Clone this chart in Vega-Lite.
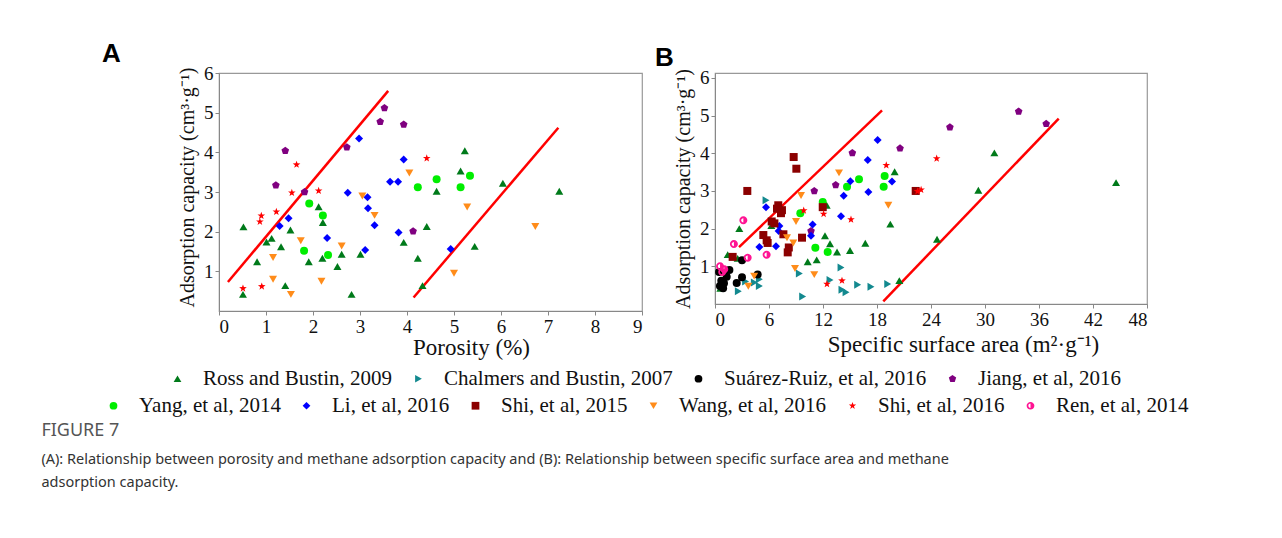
{
  "$schema": "https://vega.github.io/schema/vega-lite/v6.json",
  "padding": {"left": 41, "top": 40, "right": 5, "bottom": 5},
  "background": "white",
  "bounds": "flush",
  "spacing": 73,
  "config": {
    "font": "Liberation Serif",
    "view": {"stroke": "#999", "strokeWidth": 1.2},
    "axis": {"grid": false, "labelFont": "Liberation Serif", "titleFont": "Liberation Serif", "labelFontSize": 19, "titleFontSize": 20, "labelColor": "#111", "titleColor": "#111", "titleFontWeight": "normal", "domainColor": "#888", "tickColor": "#888", "tickSize": 4, "labelPadding": 2},
    "axisX": {"titleFontSize": 23},
    "legend": {"labelFont": "Liberation Serif", "labelFontSize": 21, "labelColor": "#111", "labelLimit": 600, "symbolSize": 60, "labelOffset": 15, "padding": 0},
    "title": {"font": "Liberation Sans", "fontSize": 26, "fontWeight": "bold", "color": "#000"}
  },
  "datasets": {
    "ptsA": [
      {"study": "Ross and Bustin, 2009", "x": 0.52, "y": 2.12},
      {"study": "Ross and Bustin, 2009", "x": 2.12, "y": 2.63},
      {"study": "Ross and Bustin, 2009", "x": 2.21, "y": 2.23},
      {"study": "Ross and Bustin, 2009", "x": 1.52, "y": 2.04},
      {"study": "Ross and Bustin, 2009", "x": 4.42, "y": 2.13},
      {"study": "Ross and Bustin, 2009", "x": 1.12, "y": 1.83},
      {"study": "Ross and Bustin, 2009", "x": 1.01, "y": 1.74},
      {"study": "Ross and Bustin, 2009", "x": 3.93, "y": 1.73},
      {"study": "Ross and Bustin, 2009", "x": 1.32, "y": 1.62},
      {"study": "Ross and Bustin, 2009", "x": 2.61, "y": 1.43},
      {"study": "Ross and Bustin, 2009", "x": 3.01, "y": 1.43},
      {"study": "Ross and Bustin, 2009", "x": 2.2, "y": 1.33},
      {"study": "Ross and Bustin, 2009", "x": 4.23, "y": 1.33},
      {"study": "Ross and Bustin, 2009", "x": 0.81, "y": 1.24},
      {"study": "Ross and Bustin, 2009", "x": 1.91, "y": 1.24},
      {"study": "Ross and Bustin, 2009", "x": 2.52, "y": 1.12},
      {"study": "Ross and Bustin, 2009", "x": 1.41, "y": 0.64},
      {"study": "Ross and Bustin, 2009", "x": 4.33, "y": 0.64},
      {"study": "Ross and Bustin, 2009", "x": 0.51, "y": 0.42},
      {"study": "Ross and Bustin, 2009", "x": 2.82, "y": 0.42},
      {"study": "Ross and Bustin, 2009", "x": 5.23, "y": 4.04},
      {"study": "Ross and Bustin, 2009", "x": 5.14, "y": 3.53},
      {"study": "Ross and Bustin, 2009", "x": 4.63, "y": 3.02},
      {"study": "Ross and Bustin, 2009", "x": 6.04, "y": 3.22},
      {"study": "Ross and Bustin, 2009", "x": 7.24, "y": 3.02},
      {"study": "Ross and Bustin, 2009", "x": 5.44, "y": 1.63},
      {"study": "Yang, et al, 2014", "x": 1.92, "y": 2.71},
      {"study": "Yang, et al, 2014", "x": 2.21, "y": 2.41},
      {"study": "Yang, et al, 2014", "x": 1.81, "y": 1.52},
      {"study": "Yang, et al, 2014", "x": 2.32, "y": 1.41},
      {"study": "Yang, et al, 2014", "x": 4.23, "y": 3.12},
      {"study": "Yang, et al, 2014", "x": 4.63, "y": 3.32},
      {"study": "Yang, et al, 2014", "x": 5.34, "y": 3.41},
      {"study": "Yang, et al, 2014", "x": 5.14, "y": 3.12},
      {"study": "Li, et al, 2016", "x": 2.98, "y": 4.35},
      {"study": "Li, et al, 2016", "x": 3.93, "y": 3.82},
      {"study": "Li, et al, 2016", "x": 3.64, "y": 3.26},
      {"study": "Li, et al, 2016", "x": 3.81, "y": 3.26},
      {"study": "Li, et al, 2016", "x": 2.74, "y": 2.98},
      {"study": "Li, et al, 2016", "x": 3.16, "y": 2.87},
      {"study": "Li, et al, 2016", "x": 3.17, "y": 2.59},
      {"study": "Li, et al, 2016", "x": 1.48, "y": 2.34},
      {"study": "Li, et al, 2016", "x": 1.29, "y": 2.14},
      {"study": "Li, et al, 2016", "x": 3.31, "y": 2.16},
      {"study": "Li, et al, 2016", "x": 3.82, "y": 1.98},
      {"study": "Li, et al, 2016", "x": 2.3, "y": 1.84},
      {"study": "Li, et al, 2016", "x": 3.11, "y": 1.54},
      {"study": "Li, et al, 2016", "x": 4.93, "y": 1.56},
      {"study": "Jiang, et al, 2016", "x": 3.52, "y": 5.12},
      {"study": "Jiang, et al, 2016", "x": 3.43, "y": 4.77},
      {"study": "Jiang, et al, 2016", "x": 3.93, "y": 4.7},
      {"study": "Jiang, et al, 2016", "x": 2.72, "y": 4.13},
      {"study": "Jiang, et al, 2016", "x": 1.41, "y": 4.04},
      {"study": "Jiang, et al, 2016", "x": 1.21, "y": 3.17},
      {"study": "Jiang, et al, 2016", "x": 1.82, "y": 3.0},
      {"study": "Jiang, et al, 2016", "x": 4.13, "y": 2.01},
      {"study": "Shi, et al, 2016", "x": 1.65, "y": 3.69},
      {"study": "Shi, et al, 2016", "x": 4.42, "y": 3.85},
      {"study": "Shi, et al, 2016", "x": 1.55, "y": 2.98},
      {"study": "Shi, et al, 2016", "x": 2.12, "y": 3.03},
      {"study": "Shi, et al, 2016", "x": 0.9, "y": 2.4},
      {"study": "Shi, et al, 2016", "x": 1.22, "y": 2.5},
      {"study": "Shi, et al, 2016", "x": 0.87, "y": 2.25},
      {"study": "Shi, et al, 2016", "x": 0.51, "y": 0.57},
      {"study": "Shi, et al, 2016", "x": 0.91, "y": 0.62},
      {"study": "Wang, et al, 2016", "x": 4.05, "y": 3.48},
      {"study": "Wang, et al, 2016", "x": 3.05, "y": 2.9},
      {"study": "Wang, et al, 2016", "x": 3.31, "y": 2.41},
      {"study": "Wang, et al, 2016", "x": 1.74, "y": 1.77},
      {"study": "Wang, et al, 2016", "x": 2.61, "y": 1.64},
      {"study": "Wang, et al, 2016", "x": 1.15, "y": 1.35},
      {"study": "Wang, et al, 2016", "x": 1.15, "y": 0.8},
      {"study": "Wang, et al, 2016", "x": 2.18, "y": 0.75},
      {"study": "Wang, et al, 2016", "x": 1.53, "y": 0.42},
      {"study": "Wang, et al, 2016", "x": 5.28, "y": 2.62},
      {"study": "Wang, et al, 2016", "x": 6.73, "y": 2.13},
      {"study": "Wang, et al, 2016", "x": 5.0, "y": 0.95}
    ],
    "linesA": [
      {"seg": "upper", "x": 0.19, "y": 0.73},
      {"seg": "upper", "x": 3.6, "y": 5.55},
      {"seg": "lower", "x": 4.14, "y": 0.34},
      {"seg": "lower", "x": 7.22, "y": 4.62}
    ],
    "ptsB": [
      {"study": "Ross and Bustin, 2009", "x": 12.41, "y": 2.62},
      {"study": "Ross and Bustin, 2009", "x": 2.7, "y": 2.0},
      {"study": "Ross and Bustin, 2009", "x": 6.26, "y": 2.08},
      {"study": "Ross and Bustin, 2009", "x": 12.22, "y": 1.81},
      {"study": "Ross and Bustin, 2009", "x": 12.78, "y": 1.6},
      {"study": "Ross and Bustin, 2009", "x": 13.56, "y": 1.38},
      {"study": "Ross and Bustin, 2009", "x": 15.0, "y": 1.42},
      {"study": "Ross and Bustin, 2009", "x": 1.41, "y": 1.31},
      {"study": "Ross and Bustin, 2009", "x": 2.52, "y": 1.21},
      {"study": "Ross and Bustin, 2009", "x": 11.3, "y": 1.17},
      {"study": "Ross and Bustin, 2009", "x": 10.3, "y": 1.12},
      {"study": "Ross and Bustin, 2009", "x": 0.59, "y": 0.42},
      {"study": "Ross and Bustin, 2009", "x": 31.04, "y": 4.01},
      {"study": "Ross and Bustin, 2009", "x": 19.96, "y": 3.51},
      {"study": "Ross and Bustin, 2009", "x": 29.26, "y": 3.02},
      {"study": "Ross and Bustin, 2009", "x": 44.56, "y": 3.22},
      {"study": "Ross and Bustin, 2009", "x": 19.48, "y": 2.12},
      {"study": "Ross and Bustin, 2009", "x": 16.7, "y": 1.61},
      {"study": "Ross and Bustin, 2009", "x": 24.67, "y": 1.72},
      {"study": "Ross and Bustin, 2009", "x": 20.48, "y": 0.62},
      {"study": "Chalmers and Bustin, 2007", "x": 5.67, "y": 2.75},
      {"study": "Chalmers and Bustin, 2007", "x": 2.59, "y": 0.34},
      {"study": "Chalmers and Bustin, 2007", "x": 4.93, "y": 0.66},
      {"study": "Chalmers and Bustin, 2007", "x": 4.93, "y": 0.48},
      {"study": "Chalmers and Bustin, 2007", "x": 4.37, "y": 0.57},
      {"study": "Chalmers and Bustin, 2007", "x": 3.4, "y": 0.6},
      {"study": "Chalmers and Bustin, 2007", "x": 9.37, "y": 0.81},
      {"study": "Chalmers and Bustin, 2007", "x": 9.74, "y": 0.2},
      {"study": "Chalmers and Bustin, 2007", "x": 12.78, "y": 0.64},
      {"study": "Chalmers and Bustin, 2007", "x": 14.0, "y": 0.97},
      {"study": "Chalmers and Bustin, 2007", "x": 14.11, "y": 0.38},
      {"study": "Chalmers and Bustin, 2007", "x": 14.56, "y": 0.31},
      {"study": "Chalmers and Bustin, 2007", "x": 15.85, "y": 0.51},
      {"study": "Chalmers and Bustin, 2007", "x": 17.33, "y": 0.46},
      {"study": "Chalmers and Bustin, 2007", "x": 19.19, "y": 0.53},
      {"study": "Suárez-Ruiz, et al, 2016", "x": 3.0, "y": 1.16},
      {"study": "Suárez-Ruiz, et al, 2016", "x": 3.0, "y": 0.71},
      {"study": "Suárez-Ruiz, et al, 2016", "x": 2.41, "y": 0.56},
      {"study": "Suárez-Ruiz, et al, 2016", "x": 4.74, "y": 0.78},
      {"study": "Suárez-Ruiz, et al, 2016", "x": 0.45, "y": 0.85},
      {"study": "Suárez-Ruiz, et al, 2016", "x": 0.7, "y": 0.62},
      {"study": "Suárez-Ruiz, et al, 2016", "x": 1.0, "y": 0.55},
      {"study": "Suárez-Ruiz, et al, 2016", "x": 0.55, "y": 0.48},
      {"study": "Suárez-Ruiz, et al, 2016", "x": 1.3, "y": 0.72},
      {"study": "Suárez-Ruiz, et al, 2016", "x": 0.9, "y": 0.42},
      {"study": "Suárez-Ruiz, et al, 2016", "x": 1.6, "y": 0.9},
      {"study": "Jiang, et al, 2016", "x": 15.26, "y": 4.01},
      {"study": "Jiang, et al, 2016", "x": 13.41, "y": 3.16},
      {"study": "Jiang, et al, 2016", "x": 11.03, "y": 3.0},
      {"study": "Jiang, et al, 2016", "x": 10.67, "y": 1.94},
      {"study": "Jiang, et al, 2016", "x": 33.74, "y": 5.11},
      {"study": "Jiang, et al, 2016", "x": 36.8, "y": 4.78},
      {"study": "Jiang, et al, 2016", "x": 26.1, "y": 4.69},
      {"study": "Jiang, et al, 2016", "x": 20.56, "y": 4.13},
      {"study": "Yang, et al, 2014", "x": 14.67, "y": 3.11},
      {"study": "Yang, et al, 2014", "x": 11.97, "y": 2.71},
      {"study": "Yang, et al, 2014", "x": 9.48, "y": 2.41},
      {"study": "Yang, et al, 2014", "x": 11.15, "y": 1.49},
      {"study": "Yang, et al, 2014", "x": 12.52, "y": 1.38},
      {"study": "Yang, et al, 2014", "x": 16.0, "y": 3.31},
      {"study": "Yang, et al, 2014", "x": 18.85, "y": 3.4},
      {"study": "Yang, et al, 2014", "x": 18.74, "y": 3.11},
      {"study": "Li, et al, 2016", "x": 15.04, "y": 3.26},
      {"study": "Li, et al, 2016", "x": 14.3, "y": 2.87},
      {"study": "Li, et al, 2016", "x": 5.67, "y": 2.57},
      {"study": "Li, et al, 2016", "x": 14.0, "y": 2.33},
      {"study": "Li, et al, 2016", "x": 7.15, "y": 2.07},
      {"study": "Li, et al, 2016", "x": 10.85, "y": 2.11},
      {"study": "Li, et al, 2016", "x": 7.07, "y": 1.94},
      {"study": "Li, et al, 2016", "x": 10.67, "y": 1.81},
      {"study": "Li, et al, 2016", "x": 4.93, "y": 1.51},
      {"study": "Li, et al, 2016", "x": 6.78, "y": 1.53},
      {"study": "Li, et al, 2016", "x": 18.07, "y": 4.35},
      {"study": "Li, et al, 2016", "x": 16.97, "y": 3.82},
      {"study": "Li, et al, 2016", "x": 19.67, "y": 3.25},
      {"study": "Li, et al, 2016", "x": 17.04, "y": 2.97},
      {"study": "Shi, et al, 2015", "x": 8.74, "y": 3.9},
      {"study": "Shi, et al, 2015", "x": 9.04, "y": 3.59},
      {"study": "Shi, et al, 2015", "x": 3.59, "y": 3.0},
      {"study": "Shi, et al, 2015", "x": 7.03, "y": 2.62},
      {"study": "Shi, et al, 2015", "x": 7.44, "y": 2.49},
      {"study": "Shi, et al, 2015", "x": 6.89, "y": 2.53},
      {"study": "Shi, et al, 2015", "x": 7.33, "y": 2.41},
      {"study": "Shi, et al, 2015", "x": 11.97, "y": 2.57},
      {"study": "Shi, et al, 2015", "x": 6.3, "y": 2.19},
      {"study": "Shi, et al, 2015", "x": 6.6, "y": 2.14},
      {"study": "Shi, et al, 2015", "x": 7.6, "y": 1.85},
      {"study": "Shi, et al, 2015", "x": 9.67, "y": 1.76},
      {"study": "Shi, et al, 2015", "x": 5.37, "y": 1.83},
      {"study": "Shi, et al, 2015", "x": 5.74, "y": 1.69},
      {"study": "Shi, et al, 2015", "x": 5.85, "y": 1.62},
      {"study": "Shi, et al, 2015", "x": 8.08, "y": 1.37},
      {"study": "Shi, et al, 2015", "x": 8.2, "y": 1.5},
      {"study": "Shi, et al, 2015", "x": 1.96, "y": 1.25},
      {"study": "Shi, et al, 2015", "x": 22.3, "y": 3.0},
      {"study": "Wang, et al, 2016", "x": 13.78, "y": 3.48},
      {"study": "Wang, et al, 2016", "x": 9.56, "y": 2.88},
      {"study": "Wang, et al, 2016", "x": 9.0, "y": 2.19},
      {"study": "Wang, et al, 2016", "x": 8.0, "y": 1.76},
      {"study": "Wang, et al, 2016", "x": 8.7, "y": 1.62},
      {"study": "Wang, et al, 2016", "x": 3.7, "y": 0.47},
      {"study": "Wang, et al, 2016", "x": 4.35, "y": 0.74},
      {"study": "Wang, et al, 2016", "x": 8.89, "y": 0.94},
      {"study": "Wang, et al, 2016", "x": 11.03, "y": 0.78},
      {"study": "Wang, et al, 2016", "x": 19.26, "y": 2.62},
      {"study": "Shi, et al, 2016", "x": 9.86, "y": 2.48},
      {"study": "Shi, et al, 2016", "x": 12.07, "y": 2.39},
      {"study": "Shi, et al, 2016", "x": 15.11, "y": 2.24},
      {"study": "Shi, et al, 2016", "x": 12.44, "y": 0.53},
      {"study": "Shi, et al, 2016", "x": 14.11, "y": 0.62},
      {"study": "Shi, et al, 2016", "x": 24.63, "y": 3.86},
      {"study": "Shi, et al, 2016", "x": 19.03, "y": 3.68},
      {"study": "Shi, et al, 2016", "x": 22.5, "y": 2.99},
      {"study": "Shi, et al, 2016", "x": 22.9, "y": 3.03},
      {"study": "Ren, et al, 2014", "x": 3.15, "y": 2.22},
      {"study": "Ren, et al, 2014", "x": 2.1, "y": 1.59},
      {"study": "Ren, et al, 2014", "x": 5.74, "y": 1.31},
      {"study": "Ren, et al, 2014", "x": 3.63, "y": 1.23},
      {"study": "Ren, et al, 2014", "x": 0.56, "y": 1.0},
      {"study": "Ren, et al, 2014", "x": 1.03, "y": 0.92},
      {"study": "Ren, et al, 2014", "x": 0.8, "y": 0.85}
    ],
    "linesB": [
      {"seg": "upper", "x": 2.67, "y": 1.51},
      {"seg": "upper", "x": 18.56, "y": 5.14},
      {"seg": "lower", "x": 18.7, "y": 0.07},
      {"seg": "lower", "x": 38.19, "y": 4.92}
    ]
  },
  "title": {
    "text": "FIGURE 7",
    "subtitle": ["(A): Relationship between porosity and methane adsorption capacity and (B): Relationship between specific surface area and methane", "adsorption capacity."],
    "orient": "bottom", "anchor": "start", "frame": "bounds",
    "font": "Noto Sans", "fontSize": 18, "fontWeight": "normal", "color": "#555",
    "subtitleFont": "Noto Sans", "subtitleFontSize": 14.5, "subtitleColor": "#333", "subtitleLineHeight": 23, "subtitlePadding": 13,
    "offset": 5, "dx": -60
  },
  "hconcat": [
    {
      "width": 423, "height": 238,
      "title": {"text": "A", "anchor": "start", "frame": "group", "dx": -117, "offset": -3},
      "resolve": {"scale": {"color": "independent", "shape": "independent"}},
      "layer": [
        {
          "data": {"name": "linesA"},
          "mark": {"type": "line", "color": "#ff0000", "strokeWidth": 2.5},
          "encoding": {
            "x": {"field": "x", "type": "quantitative"},
            "y": {"field": "y", "type": "quantitative"},
            "detail": {"field": "seg"}
          }
        },
        {
          "data": {"name": "ptsA"},
          "transform": [{"filter": {"field": "study", "oneOf": ["Ross and Bustin, 2009", "Chalmers and Bustin, 2007", "Suárez-Ruiz, et al, 2016", "Jiang, et al, 2016"]}}],
          "mark": {"type": "point", "filled": true, "opacity": 1, "size": 64},
          "encoding": {
            "x": {"field": "x", "type": "quantitative", "scale": {"domain": [0, 9], "nice": false}, "axis": {"values": [0,1,2,3,4,5,6,7,8,9], "title": "Porosity (%)", "titlePadding": 0, "titleX": 252}},
            "y": {"field": "y", "type": "quantitative", "scale": {"domain": [0, 6], "nice": false}, "axis": {"values": [1,2,3,4,5,6], "title": "Adsorption capacity (cm³·g⁻¹)", "titlePadding": 6, "titleY": 114}},
            "color": {"field": "study", "type": "nominal",
              "scale": {"domain": ["Ross and Bustin, 2009", "Chalmers and Bustin, 2007", "Suárez-Ruiz, et al, 2016", "Jiang, et al, 2016"], "range": ["#007a1a", "#13898f", "#000000", "#800080"]},
              "legend": {"title": null, "orient": "none", "direction": "horizontal", "legendX": -52, "legendY": 295, "columnPadding": 15}},
            "shape": {"field": "study", "type": "nominal",
              "scale": {"domain": ["Ross and Bustin, 2009", "Chalmers and Bustin, 2007", "Suárez-Ruiz, et al, 2016", "Jiang, et al, 2016"], "range": ["triangle-up", "triangle-right", "circle", "M0,-1L0.951,-0.309L0.588,0.809L-0.588,0.809L-0.951,-0.309Z"]},
              "legend": {"title": null, "orient": "none", "direction": "horizontal", "legendX": -52, "legendY": 295, "columnPadding": 15}}
          }
        },
        {
          "data": {"name": "ptsA"},
          "transform": [{"filter": {"field": "study", "oneOf": ["Yang, et al, 2014", "Li, et al, 2016", "Shi, et al, 2015", "Wang, et al, 2016", "Shi, et al, 2016", "Ren, et al, 2014"]}}],
          "mark": {"type": "point", "filled": true, "opacity": 1, "size": 64},
          "encoding": {
            "x": {"field": "x", "type": "quantitative"},
            "y": {"field": "y", "type": "quantitative"},
            "color": {"field": "study", "type": "nominal",
              "scale": {"domain": ["Yang, et al, 2014", "Li, et al, 2016", "Shi, et al, 2015", "Wang, et al, 2016", "Shi, et al, 2016", "Ren, et al, 2014"], "range": ["#00ee00", "#0000ff", "#8b0000", "#ff8c1a", "#ff0000", "#ff1493"]},
              "legend": {"title": null, "orient": "none", "direction": "horizontal", "legendX": -116, "legendY": 322, "columnPadding": 15}},
            "shape": {"field": "study", "type": "nominal",
              "scale": {"domain": ["Yang, et al, 2014", "Li, et al, 2016", "Shi, et al, 2015", "Wang, et al, 2016", "Shi, et al, 2016", "Ren, et al, 2014"], "range": ["circle", "diamond", "square", "triangle-down", "M0,-1L0.235,-0.324L0.951,-0.309L0.38,0.124L0.588,0.809L0,0.4L-0.588,0.809L-0.38,0.124L-0.951,-0.309L-0.235,-0.324Z", "M0,-1A1,1 0 1,1 0,1A1,1 0 1,1 0,-1Z M0,-0.55A0.55,0.55 0 0,0 0,0.55Z"]},
              "legend": {"title": null, "orient": "none", "direction": "horizontal", "legendX": -116, "legendY": 322, "columnPadding": 15}}
          }
        }
      ]
    },
    {
      "width": 432, "height": 231,
      "title": {"text": "B", "anchor": "start", "frame": "group", "dx": -60, "offset": -3},
      "resolve": {"scale": {"color": "independent", "shape": "independent"}},
      "layer": [
        {
          "data": {"name": "linesB"},
          "mark": {"type": "line", "color": "#ff0000", "strokeWidth": 2.5},
          "encoding": {
            "x": {"field": "x", "type": "quantitative"},
            "y": {"field": "y", "type": "quantitative"},
            "detail": {"field": "seg"}
          }
        },
        {
          "data": {"name": "ptsB"},
          "transform": [{"filter": {"field": "study", "oneOf": ["Ross and Bustin, 2009", "Chalmers and Bustin, 2007", "Suárez-Ruiz, et al, 2016", "Jiang, et al, 2016"]}}],
          "mark": {"type": "point", "filled": true, "opacity": 1, "size": 64},
          "encoding": {
            "x": {"field": "x", "type": "quantitative", "scale": {"domain": [0, 48], "nice": false}, "axis": {"values": [0,6,12,18,24,30,36,42,48], "title": "Specific surface area (m²·g⁻¹)", "titlePadding": 4, "titleX": 248}},
            "y": {"field": "y", "type": "quantitative", "scale": {"domain": [0, 6.13], "nice": false}, "axis": {"values": [1,2,3,4,5,6], "title": "Adsorption capacity (cm³·g⁻¹)", "titlePadding": 6}},
            "color": {"field": "study", "type": "nominal",
              "scale": {"domain": ["Ross and Bustin, 2009", "Chalmers and Bustin, 2007", "Suárez-Ruiz, et al, 2016", "Jiang, et al, 2016"], "range": ["#007a1a", "#13898f", "#000000", "#800080"]},
              "legend": null},
            "shape": {"field": "study", "type": "nominal",
              "scale": {"domain": ["Ross and Bustin, 2009", "Chalmers and Bustin, 2007", "Suárez-Ruiz, et al, 2016", "Jiang, et al, 2016"], "range": ["triangle-up", "triangle-right", "circle", "M0,-1L0.951,-0.309L0.588,0.809L-0.588,0.809L-0.951,-0.309Z"]},
              "legend": null}
          }
        },
        {
          "data": {"name": "ptsB"},
          "transform": [{"filter": {"field": "study", "oneOf": ["Yang, et al, 2014", "Li, et al, 2016", "Shi, et al, 2015", "Wang, et al, 2016", "Shi, et al, 2016", "Ren, et al, 2014"]}}],
          "mark": {"type": "point", "filled": true, "opacity": 1, "size": 64},
          "encoding": {
            "x": {"field": "x", "type": "quantitative"},
            "y": {"field": "y", "type": "quantitative"},
            "color": {"field": "study", "type": "nominal",
              "scale": {"domain": ["Yang, et al, 2014", "Li, et al, 2016", "Shi, et al, 2015", "Wang, et al, 2016", "Shi, et al, 2016", "Ren, et al, 2014"], "range": ["#00ee00", "#0000ff", "#8b0000", "#ff8c1a", "#ff0000", "#ff1493"]},
              "legend": null},
            "shape": {"field": "study", "type": "nominal",
              "scale": {"domain": ["Yang, et al, 2014", "Li, et al, 2016", "Shi, et al, 2015", "Wang, et al, 2016", "Shi, et al, 2016", "Ren, et al, 2014"], "range": ["circle", "diamond", "square", "triangle-down", "M0,-1L0.235,-0.324L0.951,-0.309L0.38,0.124L0.588,0.809L0,0.4L-0.588,0.809L-0.38,0.124L-0.951,-0.309L-0.235,-0.324Z", "M0,-1A1,1 0 1,1 0,1A1,1 0 1,1 0,-1Z M0,-0.55A0.55,0.55 0 0,0 0,0.55Z"]},
              "legend": null}
          }
        }
      ]
    }
  ]
}
